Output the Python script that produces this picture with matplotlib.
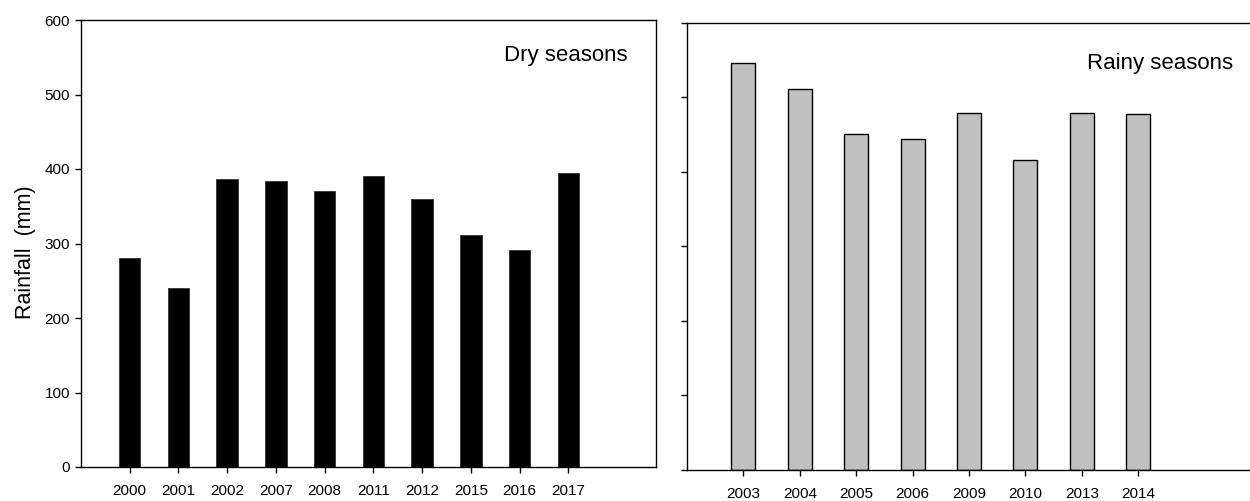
import matplotlib
matplotlib.use("Agg")
import matplotlib.pyplot as plt
import numpy as np

plt.rcParams['font.family'] = ['Liberation Sans', 'DejaVu Sans']

dry_years = ['2000', '2001', '2002', '2007', '2008', '2011', '2012', '2015', '2016', '2017']
dry_rain = [281, 240, 387, 384, 371, 390, 360, 311, 291, 395]

rainy_years = ['2003', '2004', '2005', '2006', '2009', '2010', '2013', '2014']
rainy_rain = [546, 511, 451, 444, 478, 415, 478, 477]

yticks = [0, 100, 200, 300, 400, 500, 600]

W, H = 1250, 501
fig = plt.figure(figsize=(W / 100, H / 100), dpi=100)

def ax_rect(x0, x1, ytop, ybot):
    return [x0 / W, (H - ybot) / H, (x1 - x0) / W, (ybot - ytop) / H]

ax1 = fig.add_axes(ax_rect(81, 656, 20, 467))
ax2 = fig.add_axes(ax_rect(687, 1251, 22.5, 470))

# Left panel: dry seasons
x1 = np.arange(len(dry_years))
ax1.bar(x1, dry_rain, width=0.44, color='black', edgecolor='#333333', linewidth=0.6)
ax1.set_xlim(-1.0, 10.8)
ax1.set_ylim(0, 600)
ax1.set_xticks(x1)
ax1.set_xticklabels(dry_years)
ax1.set_yticks(yticks)
ax1.set_ylabel('Rainfall  (mm)', fontsize=15.5, labelpad=6, y=0.48)
ax1.text(0.951, 0.908, 'Dry seasons', transform=ax1.transAxes, ha='right',
         va='baseline', fontsize=16)
for s in ax1.spines.values():
    s.set_linewidth(1.0)
ax1.tick_params(direction='out', length=4.5, width=1, labelsize=11)
ax1.tick_params(axis='x', pad=8)
ax1.tick_params(axis='y', pad=3.5)

# Right panel: rainy seasons
x2 = np.arange(len(rainy_years))
ax2.bar(x2, rainy_rain, width=0.425, color='#c0c0c0', edgecolor='black', linewidth=1.0)
ax2.set_xlim(-1.0, 9.0)
ax2.set_ylim(0, 600)
ax2.set_xticks(x2)
ax2.set_xticklabels(rainy_years)
ax2.set_yticks(yticks)
ax2.set_yticklabels([])
ax2.spines['right'].set_visible(False)
for s in ax2.spines.values():
    s.set_linewidth(1.0)
ax2.text(0.968, 0.896, 'Rainy seasons', transform=ax2.transAxes, ha='right',
         va='baseline', fontsize=16)
ax2.tick_params(direction='out', length=4.5, width=1, labelsize=11, pad=8)

fig.savefig('out.png', dpi=100)
